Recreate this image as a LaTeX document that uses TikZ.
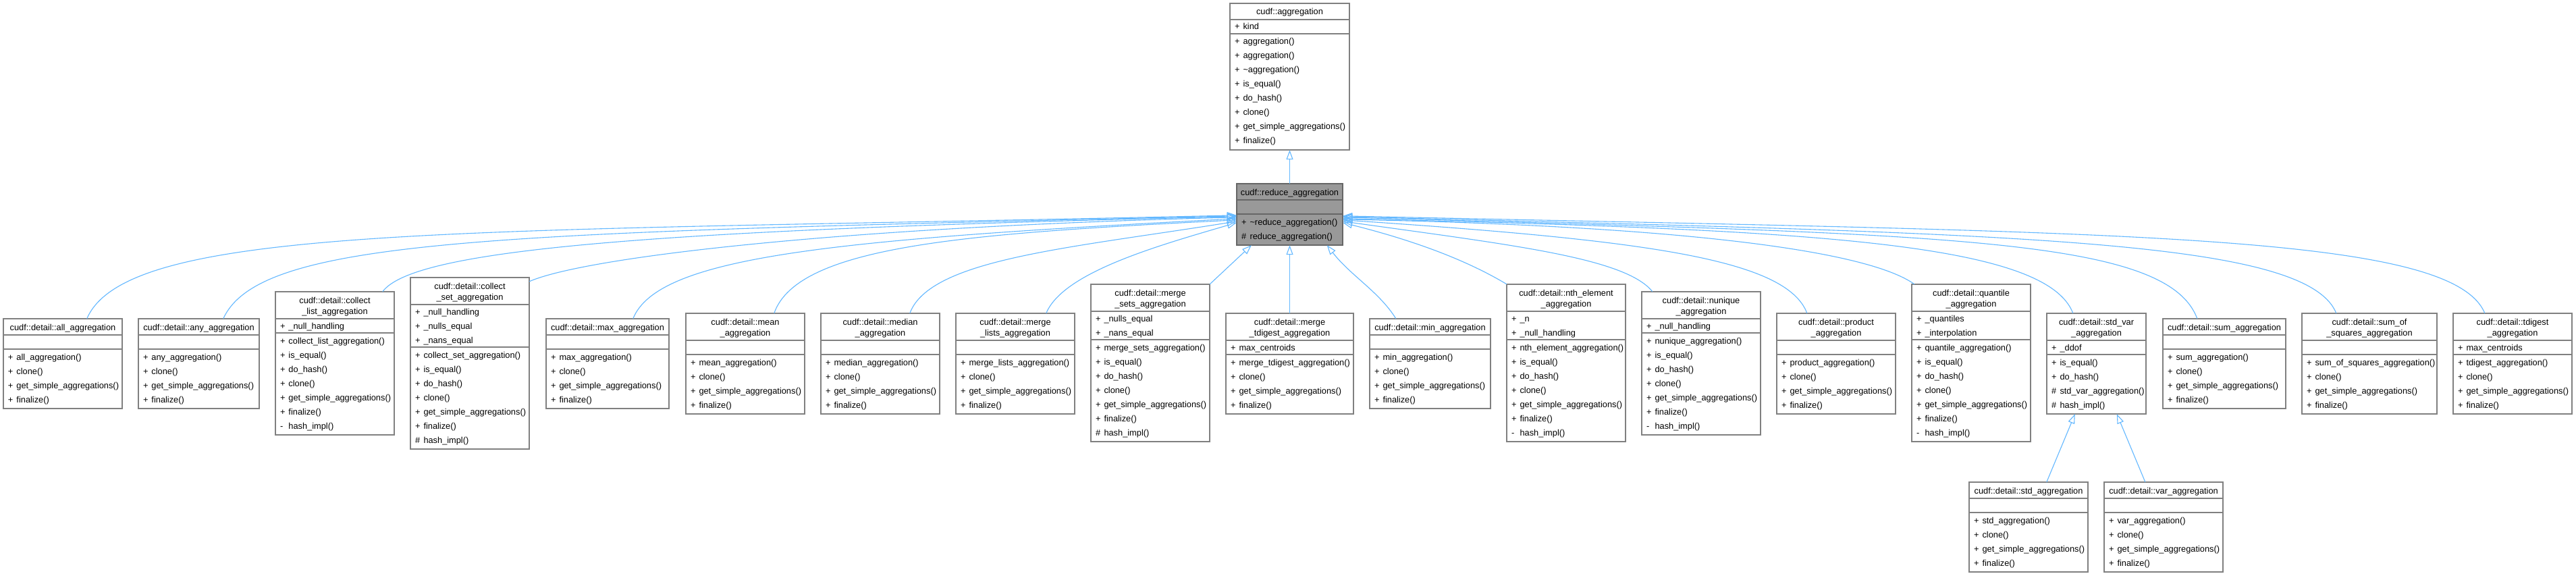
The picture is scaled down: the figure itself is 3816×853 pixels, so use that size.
\documentclass[tikz,border=0pt]{standalone}
\usepackage{fontspec}
\setmainfont{Liberation Sans}
\usetikzlibrary{arrows.meta,calc,fit}
\definecolor{edgeblue}{HTML}{63B8FF}
\definecolor{boxline}{HTML}{808080}
\definecolor{redfill}{HTML}{999999}
\definecolor{redline}{HTML}{666666}
\newcommand\umltitlefont{\fontsize{12.8}{16}\selectfont}
\newcommand\umlmemfont{\fontsize{12.8}{21}\selectfont\parindent=0pt\relax}
\newcommand\mpub{\makebox[12.5pt][l]{+}}
\newcommand\mpriv{\makebox[12.5pt][l]{-}}
\newcommand\mprot{\makebox[12.5pt][l]{\#}}
\newcommand\stdmeth[1]{\mpub #1()\\\mpub clone()\\\mpub get\_simple\_aggregations()\\\mpub finalize()}
\newcommand\umlclass[7][]{%
  \pgfmathsetmacro\umltw{#4-14}%
  \node[umlpart,#1,minimum width=#4pt,anchor=north west,align=center,inner xsep=2pt,font=\umltitlefont] (#2t) at (#3) {\rule{0pt}{17pt}#5\rule[-7pt]{0pt}{7pt}};
  \node[umlpart,#1,text width=\umltw pt,anchor=north west,align=left,font=\umlmemfont] (#2a) at (#2t.south west) {\rule{0pt}{15pt}#6\rule[-6pt]{0pt}{6pt}};
  \node[umlpart,#1,text width=\umltw pt,anchor=north west,align=left,font=\umlmemfont] (#2m) at (#2a.south west) {\rule{0pt}{16pt}#7\rule[-9pt]{0pt}{9pt}};
  \node[fit=(#2t)(#2m),inner sep=0pt] (#2) {};
}
\newcommand\inh[4]{\draw[inhedge] (#1) .. controls ($(#1)+(#3)$) and ($(#2)+(#4)$) .. (#2);}
\begin{document}
\begin{tikzpicture}[x=1pt,y=-1pt,
  umlpart/.style={draw=boxline,line width=1.3pt,fill=white,inner ysep=0pt,inner xsep=7pt,outer sep=0pt},
  inhedge/.style={draw=edgeblue,line width=1.1pt,-{Triangle[open,length=14pt,width=10pt]}}]
\fill[white] (0,0) rectangle (3816,853);
\useasboundingbox (0,0) rectangle (3816,853);

% top classes
\umlclass{agg}{1822,5}{177}{cudf::aggregation}{\mpub kind}{\mpub aggregation()\\\mpub aggregation()\\\mpub\textasciitilde aggregation()\\\mpub is\_equal()\\\mpub do\_hash()\\\mpub clone()\\\mpub get\_simple\_aggregations()\\\mpub finalize()}
\umlclass[fill=redfill,draw=redline]{red}{1832,272}{157}{cudf::reduce\_aggregation}{}{\mpub\textasciitilde reduce\_aggregation()\\\mprot reduce\_aggregation()}

% derived classes
\umlclass{all}{5,472}{176}{cudf::detail::all\_aggregation}{}{\stdmeth{all\_aggregation}}
\umlclass{any}{205,472}{179}{cudf::detail::any\_aggregation}{}{\stdmeth{any\_aggregation}}
\umlclass{clist}{408,432}{176}{cudf::detail::collect\\\_list\_aggregation}{\mpub\_null\_handling}{\mpub collect\_list\_aggregation()\\\mpub is\_equal()\\\mpub do\_hash()\\\mpub clone()\\\mpub get\_simple\_aggregations()\\\mpub finalize()\\\mpriv hash\_impl()}
\umlclass{cset}{608,411}{176}{cudf::detail::collect\\\_set\_aggregation}{\mpub\_null\_handling\\\mpub\_nulls\_equal\\\mpub\_nans\_equal}{\mpub collect\_set\_aggregation()\\\mpub is\_equal()\\\mpub do\_hash()\\\mpub clone()\\\mpub get\_simple\_aggregations()\\\mpub finalize()\\\mprot hash\_impl()}
\umlclass{max}{809,472}{182}{cudf::detail::max\_aggregation}{}{\stdmeth{max\_aggregation}}
\umlclass{mean}{1016,464}{176}{cudf::detail::mean\\\_aggregation}{}{\stdmeth{mean\_aggregation}}
\umlclass{median}{1216,464}{176}{cudf::detail::median\\\_aggregation}{}{\stdmeth{median\_aggregation}}
\umlclass{mlists}{1416,464}{176}{cudf::detail::merge\\\_lists\_aggregation}{}{\stdmeth{merge\_lists\_aggregation}}
\umlclass{msets}{1616,421}{176}{cudf::detail::merge\\\_sets\_aggregation}{\mpub\_nulls\_equal\\\mpub\_nans\_equal}{\mpub merge\_sets\_aggregation()\\\mpub is\_equal()\\\mpub do\_hash()\\\mpub clone()\\\mpub get\_simple\_aggregations()\\\mpub finalize()\\\mprot hash\_impl()}
\umlclass{mtd}{1816,464}{189}{cudf::detail::merge\\\_tdigest\_aggregation}{\mpub max\_centroids}{\stdmeth{merge\_tdigest\_aggregation}}
\umlclass{min}{2029,472}{179}{cudf::detail::min\_aggregation}{}{\stdmeth{min\_aggregation}}
\umlclass{nth}{2232,421}{176}{cudf::detail::nth\_element\\\_aggregation}{\mpub\_n\\\mpub\_null\_handling}{\mpub nth\_element\_aggregation()\\\mpub is\_equal()\\\mpub do\_hash()\\\mpub clone()\\\mpub get\_simple\_aggregations()\\\mpub finalize()\\\mpriv hash\_impl()}
\umlclass{nunique}{2432,432}{176}{cudf::detail::nunique\\\_aggregation}{\mpub\_null\_handling}{\mpub nunique\_aggregation()\\\mpub is\_equal()\\\mpub do\_hash()\\\mpub clone()\\\mpub get\_simple\_aggregations()\\\mpub finalize()\\\mpriv hash\_impl()}
\umlclass{product}{2632,464}{176}{cudf::detail::product\\\_aggregation}{}{\stdmeth{product\_aggregation}}
\umlclass{quantile}{2832,421}{176}{cudf::detail::quantile\\\_aggregation}{\mpub\_quantiles\\\mpub\_interpolation}{\mpub quantile\_aggregation()\\\mpub is\_equal()\\\mpub do\_hash()\\\mpub clone()\\\mpub get\_simple\_aggregations()\\\mpub finalize()\\\mpriv hash\_impl()}
\umlclass{stdvar}{3032,464}{147}{cudf::detail::std\_var\\\_aggregation}{\mpub\_ddof}{\mpub is\_equal()\\\mpub do\_hash()\\\mprot std\_var\_aggregation()\\\mprot hash\_impl()}
\umlclass{sum}{3204,472}{182}{cudf::detail::sum\_aggregation}{}{\stdmeth{sum\_aggregation}}
\umlclass{sumsq}{3410,464}{200}{cudf::detail::sum\_of\\\_squares\_aggregation}{}{\stdmeth{sum\_of\_squares\_aggregation}}
\umlclass{tdigest}{3634,464}{176}{cudf::detail::tdigest\\\_aggregation}{\mpub max\_centroids}{\stdmeth{tdigest\_aggregation}}
\umlclass{std}{2917,714}{176}{cudf::detail::std\_aggregation}{}{\stdmeth{std\_aggregation}}
\umlclass{var}{3117,714}{176}{cudf::detail::var\_aggregation}{}{\stdmeth{var\_aggregation}}

% connector end points
\coordinate (sAll) at ($(all.north west)+(124,0)$);
\coordinate (sAny) at ($(any.north west)+(126,0)$);
\coordinate (sClist) at ($(clist.north west)+(159,0)$);
\coordinate (sCset) at ($(cset.north east)+(0,6)$);
\coordinate (sMax) at ($(max.north west)+(129,0)$);
\coordinate (sMean) at ($(mean.north west)+(131,0)$);
\coordinate (sMedian) at ($(median.north west)+(132,0)$);
\coordinate (sMlists) at ($(mlists.north west)+(134,0)$);
\coordinate (sMin) at ($(min.north west)+(39,0)$);
\coordinate (sNth) at (nth.north west);
\coordinate (sNunique) at ($(nunique.north west)+(16,0)$);
\coordinate (sProduct) at ($(product.north west)+(45,0)$);
\coordinate (sQuantile) at ($(quantile.north west)+(4,0)$);
\coordinate (sStdvar) at ($(stdvar.north west)+(39,0)$);
\coordinate (sSum) at ($(sum.north west)+(51,0)$);
\coordinate (sSumsq) at ($(sumsq.north west)+(51,0)$);
\coordinate (sTdigest) at ($(tdigest.north west)+(47,0)$);

\coordinate (tAll) at ($(red.north west)+(0,47)$);
\coordinate (tAny) at ($(red.north west)+(0,48)$);
\coordinate (tClist) at ($(red.north west)+(0,49)$);
\coordinate (tCset) at ($(red.north west)+(0,50)$);
\coordinate (tMax) at ($(red.north west)+(0,52)$);
\coordinate (tMean) at ($(red.north west)+(0,54)$);
\coordinate (tMedian) at ($(red.north west)+(0,56)$);
\coordinate (tMlists) at ($(red.north west)+(0,58)$);
\coordinate (tMin) at ($(red.south west)+(134,0)$);
\coordinate (tNth) at ($(red.north east)+(0,58)$);
\coordinate (tNunique) at ($(red.north east)+(0,56)$);
\coordinate (tProduct) at ($(red.north east)+(0,54)$);
\coordinate (tQuantile) at ($(red.north east)+(0,53)$);
\coordinate (tStdvar) at ($(red.north east)+(0,52)$);
\coordinate (tSum) at ($(red.north east)+(0,50)$);
\coordinate (tSumsq) at ($(red.north east)+(0,49)$);
\coordinate (tTdigest) at ($(red.north east)+(0,48)$);

% inheritance connectors
\draw[inhedge] (red.north) -- (agg.south);
\inh{sAll}{tAll}{61,-142}{-1132,26}
\inh{sAny}{tAny}{55,-120}{-1100,25}
\inh{sClist}{tClist}{45,-60}{-900,20}
\inh{sCset}{tCset}{80,-35}{-600,15}
\inh{sMax}{tMax}{37,-92}{-600,31}
\inh{sMean}{tMean}{35,-100}{-400,20}
\inh{sMedian}{tMedian}{30,-80}{-250,40}
\inh{sMlists}{tMlists}{25,-60}{-120,35}
\draw[inhedge] (msets.north east) -- ($(red.south west)+(22,0)$);
\draw[inhedge] (mtd.north) -- (red.south);
\inh{sMin}{tMin}{-25,-40}{35,45}
\inh{sNth}{tNth}{-50,-30}{120,30}
\inh{sNunique}{tNunique}{-40,-50}{250,35}
\inh{sProduct}{tProduct}{-30,-80}{450,30}
\inh{sQuantile}{tQuantile}{-70,-50}{500,10}
\inh{sStdvar}{tStdvar}{-40,-104}{700,16}
\inh{sSum}{tSum}{-45,-120}{900,25}
\inh{sSumsq}{tSumsq}{-45,-110}{1000,25}
\inh{sTdigest}{tTdigest}{-50,-120}{1150,25}
\draw[inhedge] ($(std.north west)+(115,0)$) -- ($(stdvar.south west)+(42,0)$);
\draw[inhedge] ($(var.north west)+(61,0)$) -- ($(stdvar.south west)+(104,0)$);
\end{tikzpicture}
\end{document}
